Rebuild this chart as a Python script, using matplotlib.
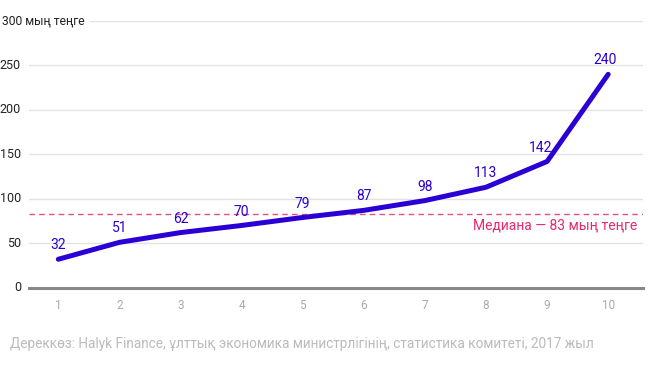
import matplotlib
matplotlib.use("Agg")
import matplotlib.pyplot as plt

plt.rcParams['font.family'] = ['Roboto', 'DejaVu Sans']

deciles = [1, 2, 3, 4, 5, 6, 7, 8, 9, 10]
income = [32, 51, 62, 70, 79, 87, 98, 113, 142, 240]
y_ticks = [0, 50, 100, 150, 200, 250, 300]
median = 83
median_label = "Медиана — 83 мың теңге"
unit_label = "300 мың теңге"
source = "Дереккөз: Halyk Finance, ұлттық экономика министрлігінің, статистика комитеті, 2017 жыл"

W, H = 663, 366
fig = plt.figure(figsize=(W / 100, H / 100), dpi=100)
left, right, top, bottom = 29, 643, 21, 287.7
ax = fig.add_axes([left / W, 1 - bottom / H, (right - left) / W, (bottom - top) / H])
ax.set_xlim(0.52, 10.57)
ax.set_ylim(0, 300)
for s in ax.spines.values():
    s.set_visible(False)

# gridlines
for t in y_ticks[1:]:
    xmin = 0 if t != 300 else (90 - left) / (right - left)
    ax.axhline(t, xmin=xmin, xmax=1, color='#e2e2e2', lw=1, zorder=0)
ax.axhline(0, color='#888888', lw=2.2, zorder=1, clip_on=False)

# median line
ax.axhline(median, color='#e2507f', lw=1, ls=(0, (4, 3)), zorder=1)
ax.text(10.48, median - 5, median_label, color='#e8286e', fontsize=10,
        ha='right', va='top')

ax.plot(deciles, income, color='#2a00d5', lw=3.6, solid_capstyle='round',
        solid_joinstyle='round', zorder=3)
x_shift = {9: -5, 10: -2}
for x, y in zip(deciles, income):
    ax.annotate(str(y), (x, y), xytext=(x_shift.get(x, 0), 5), textcoords='offset points',
                ha='center', va='bottom', color='#2a00d5', fontsize=10)

ax.set_xticks(deciles)
ax.set_xticklabels([str(d) for d in deciles], color='#aaaaaa', fontsize=8.5)
ax.tick_params(axis='x', length=0, pad=8)
ax.set_yticks(y_ticks)
ax.set_yticklabels([])
ax.tick_params(axis='y', length=0)
for t in y_ticks:
    ypix = bottom - t * (bottom - top) / 300
    if t == 300:
        fig.text(2 / W, 1 - ypix / H, unit_label, ha='left', va='center', fontsize=8.7, color='#222222')
    else:
        fig.text(21 / W, 1 - ypix / H, str(t), ha='right', va='center',
                 fontsize=9, color='#222222')

fig.text(10 / W, 1 - 344 / H, source, ha='left', va='center', fontsize=9.8, color='#bbbbbb')

fig.savefig("out.png", dpi=100)
